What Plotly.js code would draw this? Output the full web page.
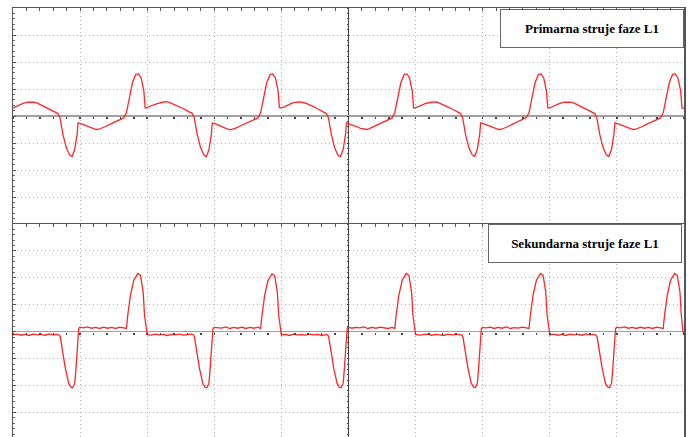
<!DOCTYPE html>
<html>
<head>
<meta charset="utf-8">
<script src="https://cdn.plot.ly/plotly-3.0.1.min.js"></script>
<style>html,body{margin:0;padding:0;background:#fff;}#chart{width:691px;height:437px;}</style>
</head>
<body>
<div id="chart"></div>
<script>
// Time in ms (10 ms per division), amplitude in screen divisions
const primaryTime = [
 -50.0,-49.5,-49.0,-48.5,-47.8,-47.3,-46.8,-46.3,-45.8,-45.2,-44.5,-43.9,-43.3,-43.0,-42.55,-42.05,-41.55,-41.2,-40.8,-40.45,-40.3,-39.8,-39.3,-38.8,-38.2,-37.6,-37.2,-36.8,-36.2,-35.6,-35.0,-34.4,-33.9,-33.5,-33.1,-32.7,-32.2,-31.7,-31.3,-30.9,-30.5,-30.3,
 -30.0,-29.5,-29.0,-28.5,-27.8,-27.3,-26.8,-26.3,-25.8,-25.2,-24.5,-23.9,-23.3,-23.0,-22.55,-22.05,-21.55,-21.2,-20.8,-20.45,-20.3,-19.8,-19.3,-18.8,-18.2,-17.6,-17.2,-16.8,-16.2,-15.6,-15.0,-14.4,-13.9,-13.5,-13.1,-12.7,-12.2,-11.7,-11.3,-10.9,-10.5,-10.3,
 -10.0,-9.5,-9.0,-8.5,-7.8,-7.3,-6.8,-6.3,-5.8,-5.2,-4.5,-3.9,-3.3,-3.0,-2.55,-2.05,-1.55,-1.2,-0.8,-0.45,-0.3,0.2,0.7,1.2,1.8,2.4,2.8,3.2,3.8,4.4,5.0,5.6,6.1,6.5,6.9,7.3,7.8,8.3,8.7,9.1,9.5,9.7,
 10.0,10.5,11.0,11.5,12.2,12.7,13.2,13.7,14.2,14.8,15.5,16.1,16.7,17.0,17.45,17.95,18.45,18.8,19.2,19.55,19.7,20.2,20.7,21.2,21.8,22.4,22.8,23.2,23.8,24.4,25.0,25.6,26.1,26.5,26.9,27.3,27.8,28.3,28.7,29.1,29.5,29.7,
 30.0,30.5,31.0,31.5,32.2,32.7,33.2,33.7,34.2,34.8,35.5,36.1,36.7,37.0,37.45,37.95,38.45,38.8,39.2,39.55,39.7,40.2,40.7,41.2,41.8,42.4,42.8,43.2,43.8,44.4,45.0,45.6,46.1,46.5,46.9,47.3,47.8,48.3,48.7,49.1,49.5,49.7,50.0
];
const primaryCurrent = [
 0.30,0.36,0.42,0.47,0.51,0.52,0.51,0.47,0.41,0.34,0.25,0.17,0.09,-0.05,-0.69,-1.18,-1.45,-1.50,-1.24,-0.69,-0.25,-0.29,-0.34,-0.39,-0.46,-0.50,-0.49,-0.46,-0.39,-0.31,-0.24,-0.17,-0.12,-0.07,0.12,0.67,1.23,1.54,1.56,1.41,0.92,0.30,
 0.31,0.37,0.42,0.46,0.50,0.53,0.51,0.46,0.40,0.34,0.26,0.17,0.10,-0.05,-0.68,-1.17,-1.45,-1.51,-1.25,-0.70,-0.26,-0.29,-0.35,-0.40,-0.47,-0.51,-0.49,-0.45,-0.38,-0.31,-0.23,-0.17,-0.11,-0.07,0.12,0.66,1.22,1.53,1.56,1.42,0.93,0.31,
 0.30,0.35,0.41,0.47,0.51,0.52,0.50,0.47,0.41,0.35,0.25,0.18,0.09,-0.06,-0.69,-1.19,-1.46,-1.50,-1.24,-0.69,-0.25,-0.30,-0.34,-0.39,-0.46,-0.50,-0.50,-0.46,-0.39,-0.30,-0.24,-0.16,-0.12,-0.07,0.13,0.67,1.23,1.54,1.56,1.41,0.92,0.30,
 0.31,0.36,0.42,0.47,0.50,0.52,0.51,0.46,0.41,0.34,0.25,0.17,0.09,-0.05,-0.69,-1.18,-1.45,-1.50,-1.23,-0.68,-0.25,-0.29,-0.34,-0.40,-0.46,-0.50,-0.49,-0.46,-0.39,-0.31,-0.24,-0.17,-0.12,-0.06,0.12,0.67,1.23,1.54,1.56,1.41,0.92,0.30,
 0.30,0.36,0.42,0.47,0.51,0.52,0.51,0.47,0.41,0.34,0.25,0.17,0.09,-0.05,-0.69,-1.18,-1.45,-1.50,-1.24,-0.69,-0.25,-0.29,-0.34,-0.39,-0.46,-0.50,-0.49,-0.46,-0.39,-0.31,-0.24,-0.17,-0.12,-0.07,0.12,0.67,1.23,1.54,1.56,1.41,0.92,0.30,0.28
];
const secondaryTime = [
 -50.0,-49.4,-48.8,-48.2,-47.6,-47.0,-46.4,-45.8,-45.2,-44.6,-44.0,-43.4,-43.1,-42.95,-42.6,-42.2,-41.7,-41.35,-41.1,-40.8,-40.65,-40.4,-40.2,-40.05,-39.5,-38.9,-38.3,-37.7,-37.1,-36.5,-35.9,-35.3,-34.7,-34.1,-33.5,-33.1,-32.9,-32.5,-32.0,-31.4,-31.0,-30.6,-30.4,-30.15,
 -30.0,-29.4,-28.8,-28.2,-27.6,-27.0,-26.4,-25.8,-25.2,-24.6,-24.0,-23.4,-23.1,-22.95,-22.6,-22.2,-21.7,-21.35,-21.1,-20.8,-20.65,-20.4,-20.2,-20.05,-19.5,-18.9,-18.3,-17.7,-17.1,-16.5,-15.9,-15.3,-14.7,-14.1,-13.5,-13.1,-12.9,-12.5,-12.0,-11.4,-11.0,-10.6,-10.4,-10.15,
 -10.0,-9.4,-8.8,-8.2,-7.6,-7.0,-6.4,-5.8,-5.2,-4.6,-4.0,-3.4,-3.1,-2.95,-2.6,-2.2,-1.7,-1.35,-1.1,-0.8,-0.65,-0.4,-0.2,-0.05,0.5,1.1,1.7,2.3,2.9,3.5,4.1,4.7,5.3,5.9,6.5,6.9,7.1,7.5,8.0,8.6,9.0,9.4,9.6,9.85,
 10.0,10.6,11.2,11.8,12.4,13.0,13.6,14.2,14.8,15.4,16.0,16.6,16.9,17.05,17.4,17.8,18.3,18.65,18.9,19.2,19.35,19.6,19.8,19.95,20.5,21.1,21.7,22.3,22.9,23.5,24.1,24.7,25.3,25.9,26.5,26.9,27.1,27.5,28.0,28.6,29.0,29.4,29.6,29.85,
 30.0,30.6,31.2,31.8,32.4,33.0,33.6,34.2,34.8,35.4,36.0,36.6,36.9,37.05,37.4,37.8,38.3,38.65,38.9,39.2,39.35,39.6,39.8,39.95,40.5,41.1,41.7,42.3,42.9,43.5,44.1,44.7,45.3,45.9,46.5,46.9,47.1,47.5,48.0,48.6,49.0,49.4,49.6,49.85,50.0
];
const secondaryCurrent = [
 -0.12,-0.09,-0.13,-0.10,-0.14,-0.09,-0.12,-0.10,-0.13,-0.08,-0.12,-0.10,-0.13,-0.19,-0.75,-1.36,-1.92,-2.06,-2.08,-1.92,-1.49,-0.75,0.12,0.17,0.14,0.18,0.13,0.16,0.12,0.17,0.13,0.16,0.12,0.17,0.14,0.12,0.61,1.35,1.91,2.16,2.09,1.47,0.61,0.00,
 -0.11,-0.13,-0.09,-0.12,-0.10,-0.14,-0.10,-0.12,-0.09,-0.13,-0.11,-0.09,-0.12,-0.20,-0.76,-1.37,-1.93,-2.07,-2.08,-1.91,-1.48,-0.74,0.11,0.16,0.15,0.13,0.18,0.12,0.16,0.13,0.17,0.12,0.16,0.13,0.17,0.12,0.60,1.34,1.90,2.15,2.08,1.46,0.60,0.01,
 -0.12,-0.10,-0.14,-0.09,-0.12,-0.11,-0.13,-0.09,-0.12,-0.10,-0.14,-0.11,-0.12,-0.19,-0.75,-1.36,-1.92,-2.06,-2.08,-1.92,-1.49,-0.75,0.12,0.17,0.13,0.16,0.14,0.18,0.12,0.16,0.13,0.17,0.14,0.12,0.16,0.12,0.61,1.35,1.91,2.16,2.09,1.47,0.61,0.00,
 -0.10,-0.13,-0.11,-0.09,-0.13,-0.10,-0.12,-0.14,-0.09,-0.12,-0.10,-0.13,-0.12,-0.19,-0.75,-1.35,-1.92,-2.06,-2.07,-1.92,-1.49,-0.75,0.12,0.16,0.14,0.17,0.12,0.16,0.13,0.18,0.12,0.15,0.13,0.17,0.13,0.12,0.61,1.35,1.91,2.16,2.09,1.47,0.61,0.00,
 -0.12,-0.09,-0.13,-0.10,-0.14,-0.09,-0.12,-0.10,-0.13,-0.08,-0.12,-0.10,-0.13,-0.19,-0.75,-1.36,-1.92,-2.06,-2.08,-1.92,-1.49,-0.75,0.12,0.17,0.14,0.18,0.13,0.16,0.12,0.17,0.13,0.16,0.12,0.17,0.14,0.12,0.61,1.35,1.91,2.16,2.09,1.47,0.61,0.00,-0.08
];
const labels = ["Primarna struje faze L1", "Sekundarna struje faze L1"];

const traceStyle = {mode: 'lines', line: {color: '#ff2626', width: 1.3}, hoverinfo: 'skip', showlegend: false};
// empty helper traces so that the overlaid tick axes (zero line and centre line) are drawn
const helper = {x: [], y: [], mode: 'lines', hoverinfo: 'skip', showlegend: false};
const data = [
  Object.assign({xaxis: 'x3', yaxis: 'y'}, helper),
  Object.assign({xaxis: 'x4', yaxis: 'y2'}, helper),
  Object.assign({xaxis: 'x', yaxis: 'y3'}, helper),
  Object.assign({xaxis: 'x2', yaxis: 'y4'}, helper),
  Object.assign({x: primaryTime, y: primaryCurrent, xaxis: 'x', yaxis: 'y'}, traceStyle),
  Object.assign({x: secondaryTime, y: secondaryCurrent, xaxis: 'x2', yaxis: 'y2'}, traceStyle)
];

const split = 213 / 429;
const gridCol = '#b4b4b4';
const gridDash = '1px,3px';
function xAx(anchor, match) {
  const a = {
    range: [-50, 50], domain: [0, 1], anchor: anchor, side: 'top',
    showticklabels: false, fixedrange: true,
    dtick: 10, tick0: 0, ticks: 'inside', ticklen: 3, tickcolor: '#555', tickwidth: 1,
    showgrid: true, gridcolor: gridCol, griddash: gridDash, gridwidth: 1,
    zeroline: true, zerolinecolor: '#444', zerolinewidth: 1.5,
    showline: true, linecolor: '#555', linewidth: 1.5,
    minor: {dtick: 2, ticks: 'inside', ticklen: 3, tickcolor: '#555', showgrid: false}
  };
  if (match) a.matches = match;
  return a;
}
function yAx(anchor, domain, range) {
  return {
    range: range, domain: domain, anchor: anchor,
    showticklabels: false, fixedrange: true,
    dtick: 1, tick0: 0, ticks: 'inside', ticklen: 3, tickcolor: '#555',
    showgrid: true, gridcolor: gridCol, griddash: gridDash, gridwidth: 1,
    zeroline: true, zerolinecolor: '#a0a0a0', zerolinewidth: 1.5,
    showline: true, linecolor: '#555', linewidth: 1.5, mirror: true,
    minor: {dtick: 0.2, ticks: 'inside', ticklen: 2, tickcolor: '#666', showgrid: false}
  };
}
function zeroX(overlay, pos) {
  return {
    overlaying: overlay, anchor: 'free', position: pos, range: [-50, 50],
    showticklabels: false, showgrid: false, zeroline: false, fixedrange: true,
    showline: false,
    dtick: 2, tick0: 0, ticks: 'outside', ticklen: 2, tickwidth: 1.5, tickcolor: '#444'
  };
}
function centerY(overlay, range) {
  return {
    overlaying: overlay, anchor: 'free', position: 0.5, range: range,
    showticklabels: false, showgrid: false, zeroline: false, fixedrange: true,
    showline: false,
    dtick: 0.2, tick0: 0, ticks: 'outside', ticklen: 2, tickwidth: 1, tickcolor: '#444'
  };
}
const topRange = [-4, 4];
const botRange = [-3.91, 4];

const layout = {
  width: 691, height: 437,
  margin: {l: 13, r: 7, t: 8, b: 0, pad: 0},
  paper_bgcolor: '#fff', plot_bgcolor: '#fff',
  showlegend: false,
  xaxis: xAx('y'),
  xaxis2: xAx('y2', 'x'),
  yaxis: yAx('x', [split, 1], topRange),
  yaxis2: yAx('x2', [0, split], botRange),
  xaxis3: zeroX('x', split + (1 - split) * 0.5),
  xaxis4: zeroX('x2', split * 3.91 / 7.91),
  yaxis3: centerY('y', topRange),
  yaxis4: centerY('y2', botRange),
  annotations: [
    {text: '<b>' + labels[0] + '</b>', xref: 'paper', yref: 'paper', x: (592 - 13) / 671, y: (437 - 28.5) / 429,
     xanchor: 'center', yanchor: 'middle', showarrow: false, width: 182, height: 37,
     bordercolor: '#666', borderwidth: 1, borderpad: 0, bgcolor: '#fff',
     font: {family: 'Liberation Serif, Times New Roman, serif', size: 13, color: '#000'}},
    {text: '<b>' + labels[1] + '</b>', xref: 'paper', yref: 'paper', x: (585 - 13) / 671, y: (437 - 243.5) / 429,
     xanchor: 'center', yanchor: 'middle', showarrow: false, width: 192, height: 37,
     bordercolor: '#666', borderwidth: 1, borderpad: 0, bgcolor: '#fff',
     font: {family: 'Liberation Serif, Times New Roman, serif', size: 13, color: '#000'}}
  ]
};
Plotly.newPlot('chart', data, layout, {staticPlot: true, displayModeBar: false});
</script>
</body>
</html>
